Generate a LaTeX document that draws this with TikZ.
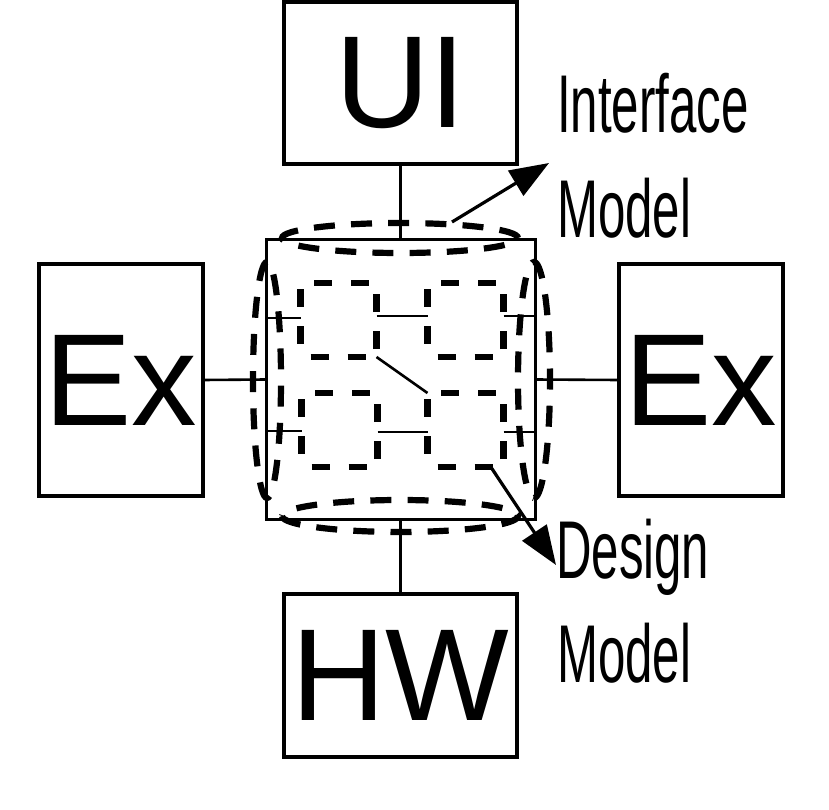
\documentclass[tikz,border=0pt]{standalone}
\usepackage{fontspec}
\setmainfont{Liberation Sans}
\usepackage{graphicx}
\usetikzlibrary{arrows.meta}
\begin{document}
\begin{tikzpicture}[x=1pt,y=-1pt,
  bigbox/.style={draw, line width=3.6pt, inner sep=0pt, outer sep=0pt,
    font=\fontsize{131}{131}\selectfont},
  corebox/.style={draw, line width=3pt, inner sep=0pt, outer sep=0pt,
    minimum width=269pt, minimum height=279pt},
  conn/.style={line width=2.6pt},
  sq/.style={draw, line width=6.2pt, dash pattern=on 18pt off 19pt, dash phase=27pt,
    minimum width=76pt, minimum height=74pt, inner sep=0pt, outer sep=0pt},
  ell/.style={line width=6.2pt, dash pattern=on 21pt off 16.2pt, dash phase=0pt},
  arr/.style={line width=3.2pt, -{Triangle[length=39pt,width=29pt]}},
  lab/.style={anchor=base west, inner sep=0pt, font=\fontsize{82}{82}\selectfont}
]
\useasboundingbox (0,0) rectangle (829,810);

% outer boxes
\node[bigbox, minimum width=233pt, minimum height=162pt] (ui) at (400.5,83) {UI};
\node[bigbox, minimum width=164pt, minimum height=232pt] (exl) at (121,380) {Ex};
\node[bigbox, minimum width=164pt, minimum height=232pt] (exr) at (701,380) {Ex};
\node[bigbox, minimum width=233pt, minimum height=163pt] (hw) at (400.5,675.5) {HW};
\node[corebox] (core) at (400.5,379.5) {};

% connectors
\draw[conn] (ui.south) -- (core.north);
\draw[conn] (core.south) -- (hw.north);
\draw[conn] (exl.east) -- (core.west);
\draw[conn] (core.east) -- (exr.west);

% inner dashed squares
\node[sq] (tl) at (338.5,320) {};
\node[sq] (tr) at (465.5,320) {};
\node[sq] (bl) at (339.5,430) {};
\node[sq] (br) at (465.5,430) {};

% inner solid links
\draw[conn] ([yshift=2pt]core.west |- tl.west) -- ([yshift=2pt]tl.west);
\draw[conn] ([yshift=-1pt]core.west |- bl.west) -- ([yshift=-1pt]bl.west);
\draw[conn] ([yshift=4pt]tr.east) -- ([yshift=4pt]core.east |- tr.east);
\draw[conn] ([yshift=-2pt]br.east) -- ([yshift=-2pt]core.east |- br.east);
\draw[conn] ([yshift=4pt]tl.east) -- ([yshift=4pt]tr.west);
\draw[conn] ([yshift=-2pt]bl.east) -- ([yshift=-2pt]br.west);
\draw[conn] (tl.south east) -- (br.north west);

% dashed ellipses (interface / design model outlines)
\draw[ell] (400,238) ellipse [x radius=118pt, y radius=15pt];
\draw[ell, rotate around={180:(400,516)}] (400,516) ellipse [x radius=118pt, y radius=16pt];
\draw[ell, rotate around={90:(267,380)}] (267,380) ellipse [x radius=118pt, y radius=14pt];
\draw[ell, rotate around={-90:(534,380)}] (534,380) ellipse [x radius=118pt, y radius=16pt];

% labels
\node[lab] (if) at (557,133) {\scalebox{0.6}[1]{Interface}};
\node[lab] (im) at (557,237) {\scalebox{0.6}[1]{Model}};
\node[lab] (dg) at (556,578) {\scalebox{0.6}[1]{Design}};
\node[lab] (dm) at (557,682) {\scalebox{0.6}[1]{Model}};

% arrows
\coordinate (imstart) at (452,222);
\coordinate (imtip) at (549,163);
\coordinate (dmtip) at (556,565);
\draw[arr] (imstart) -- (imtip);
\draw[arr] ([xshift=-12pt,yshift=-1pt]br.south east) -- (dmtip);
\end{tikzpicture}
\end{document}
